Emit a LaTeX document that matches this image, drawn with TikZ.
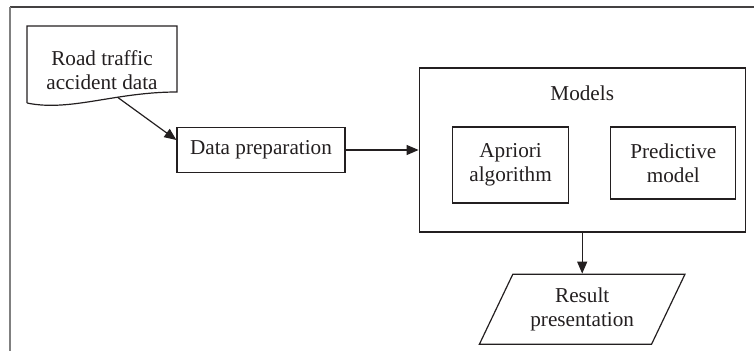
\documentclass[tikz,border=0pt]{standalone}
\usepackage{fontspec}
\setmainfont{Liberation Serif}
\usetikzlibrary{positioning, arrows.meta, shapes.geometric}
\definecolor{ink}{HTML}{231F20}

\begin{document}
\begin{tikzpicture}[x=0.5pt, y=-0.5pt, font=\fontsize{10.6}{12}\selectfont, text=ink,
    box/.style={draw=ink, line width=0.6pt, inner sep=0pt, align=center},
    arr/.style={draw=ink, line width=0.6pt, -{Triangle[length=6pt, width=5pt]}}]
            \useasboundingbox (0,0) rectangle (754,351);

            % frame (cut off at right and bottom)
            \draw [ink!85, line width=0.6pt] (10,7) -- (754,7);
            \draw [gray, line width=1pt] (10,7) -- (10,351);

            \node [align=center] (src) at (102,70) {Road traffic\\accident data};
            \draw [ink, line width=0.6pt, shift={(src.center)}]
                (-75,33) -- (-75,-44) -- (75,-44) -- (75,22)
                .. controls (13,22) and (-32,42) .. (-75,33) coordinate [pos=0.35] (srcout);

            \node [box, minimum width=84pt, minimum height=22.5pt] (prep) at (261,150) {Data preparation};
            \node [box, minimum width=163pt, minimum height=82pt, right=36.5pt of prep] (models) {};
            \node (mtitle) at ([yshift=-13pt]models.north) {Models};
            \node [box, minimum width=58pt, minimum height=38pt] (apriori)
                at ([xshift=46pt, yshift=-7.5pt]models.west) {Apriori\\algorithm};
            \node [box, minimum width=62.5pt, minimum height=36pt] (predict)
                at ([xshift=-36.25pt, yshift=-6.5pt]models.east) {Predictive\\model};

            \node [box, trapezium, trapezium left angle=60, trapezium right angle=120,
                trapezium stretches=true, minimum width=103pt, minimum height=35pt,
                below=20.5pt of models] (result) {Result\\presentation};

            \draw [arr] (srcout) -- ([yshift=5pt]prep.west);
            \draw [arr] (prep) -- (models);
            \draw [arr] (models.south) -- (models.south |- result.north);
        \end{tikzpicture}
\end{document}
